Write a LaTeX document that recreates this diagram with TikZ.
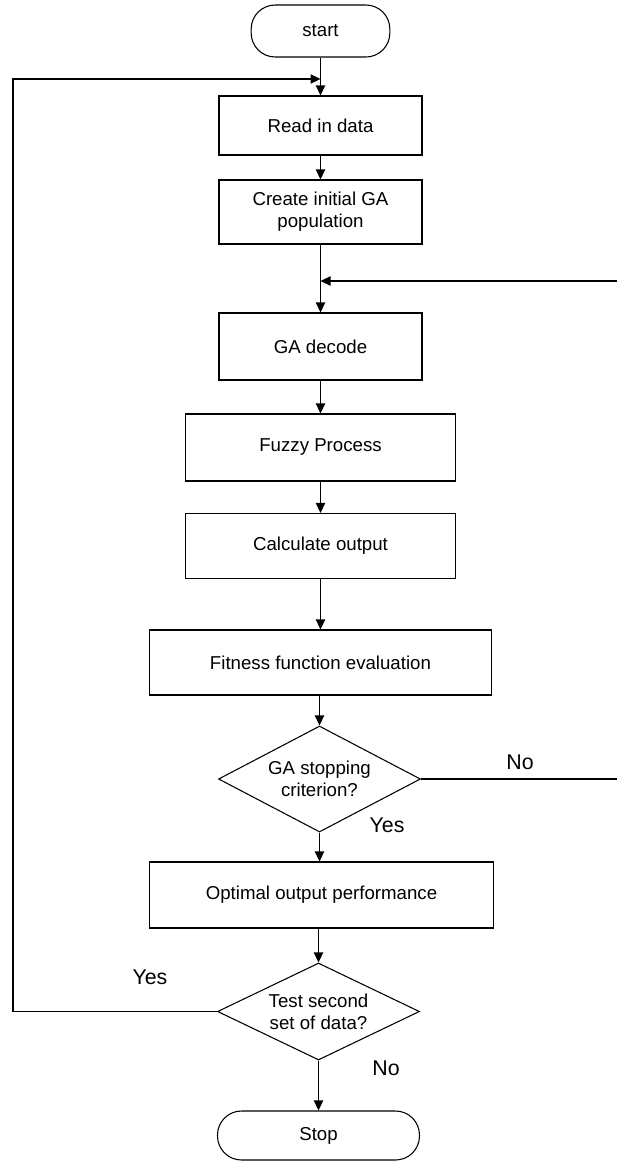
\documentclass[tikz,border=0pt]{standalone}
\usepackage{fontspec}
\setmainfont{Liberation Sans}
\usetikzlibrary{arrows.meta,shapes.geometric}

\tikzset{every picture/.style={line width=0.8pt}}
\tikzset{
  procbox/.style={draw, rectangle, align=center, font=\fontsize{14}{16.5}\selectfont},
  termbox/.style={draw, rectangle, rounded corners=18pt, font=\fontsize{14}{16.5}\selectfont},
  decbox/.style={draw, diamond, aspect=2, inner sep=0pt, align=center, font=\fontsize{14}{16.5}\selectfont},
  lbl/.style={font=\fontsize{16}{18}\selectfont},
  arr/.style={-{Triangle[length=7.5pt,width=7pt]}}
}

\begin{document}
\begin{tikzpicture}[x=0.75pt,y=0.75pt,yscale=-1,xscale=1]
\useasboundingbox (0,0) rectangle (617,1161);

%Shape: Terminal [id:start]
\node[termbox, minimum width=104pt, minimum height=39pt] (start) at (320.5,31) {start};
%Shape: Rectangle [id:read]
\node[procbox, minimum width=152.25pt, minimum height=44.25pt] (read) at (320.5,125.5) {Read in data};
%Shape: Rectangle [id:create]
\node[procbox, minimum width=152.25pt, minimum height=48pt] (create) at (320.5,212) {Create initial GA\\population};
%Shape: Rectangle [id:decode]
\node[procbox, minimum width=152.25pt, minimum height=50.25pt] (decode) at (320.5,346.5) {GA decode};
%Shape: Rectangle [id:fuzzy]
\node[procbox, minimum width=202.5pt, minimum height=50.25pt] (fuzzy) at (320.5,447.5) {Fuzzy Process};
%Shape: Rectangle [id:calc]
\node[procbox, minimum width=202.5pt, minimum height=48.75pt] (calc) at (320.5,546) {Calculate output};
%Shape: Rectangle [id:fitness]
\node[procbox, minimum width=256.5pt, minimum height=48.75pt] (fitness) at (320.5,662.5) {Fitness function evaluation};
%Shape: Diamond [id:crit]
\node[decbox, minimum width=151.5pt, minimum height=79.5pt] (crit) at (319.5,779) {GA stopping\\criterion?};
%Shape: Rectangle [id:optimal]
\node[procbox, minimum width=258pt, minimum height=49.5pt] (optimal) at (321.5,895) {Optimal output performance};
%Shape: Diamond [id:test]
\node[decbox, minimum width=151.5pt, minimum height=72.75pt] (test) at (318.5,1011.5) {Test second\\set of data?};
%Shape: Terminal [id:stop]
\node[termbox, minimum width=151.5pt, minimum height=36.75pt] (stop) at (318.5,1135.5) {Stop};

%Loop points
\coordinate (joinTop) at (320.5,79);
\coordinate (leftTop) at (13,79);
\coordinate (leftBot) at (13,1011.5);
\coordinate (joinMid) at (320.5,281);
\coordinate (rightTop) at (617,281);
\coordinate (rightBot) at (617,779);

%Straight Lines
\draw[arr] (start) -- (read);
\draw[arr] (read) -- (create);
\draw[arr] (create) -- (decode);
\draw[arr] (decode) -- (fuzzy);
\draw[arr] (fuzzy) -- (calc);
\draw[arr] (calc) -- (fitness);
\draw[arr] (fitness.south -| crit.north) -- (crit);
\draw[arr] (crit) -- (crit.south |- optimal.north);
\draw[arr] (optimal.south -| test.north) -- (test);
\draw[arr] (test) -- (stop);

%Loop Lines
\draw[arr] (test.west) -- (leftBot) -- (leftTop) -- (joinTop);
\draw (crit.east) -- (rightBot);
\draw[arr] (rightTop) -- (joinMid);

% Text Node
\node[lbl] (noCrit) at (520,762) {No};
% Text Node
\node[lbl] (yesCrit) at (387,825) {Yes};
% Text Node
\node[lbl] (yesTest) at (150,977) {Yes};
% Text Node
\node[lbl] (noTest) at (386,1068) {No};

\end{tikzpicture}
\end{document}
